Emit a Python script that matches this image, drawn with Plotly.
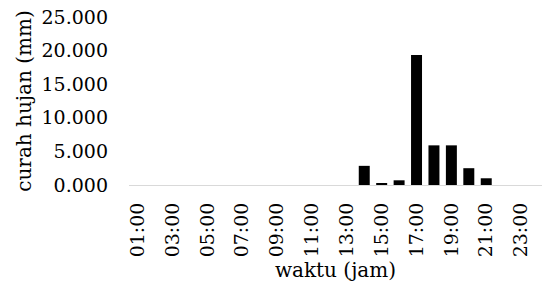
import plotly.graph_objects as go

hours = ["01:00", "02:00", "03:00", "04:00", "05:00", "06:00", "07:00", "08:00",
         "09:00", "10:00", "11:00", "12:00", "13:00", "14:00", "15:00", "16:00",
         "17:00", "18:00", "19:00", "20:00", "21:00", "22:00", "23:00", "24:00"]
rainfall = [0, 0, 0, 0, 0, 0, 0, 0,
            0, 0, 0, 0, 0, 2.85, 0.25, 0.7,
            19.35, 5.9, 5.9, 2.5, 1.0, 0, 0, 0]
tick_labels = hours[0::2]
y_ticks = [0, 5, 10, 15, 20, 25]

fig = go.Figure(go.Bar(x=hours, y=rainfall, marker=dict(color="black", line=dict(width=0))))

font_family = "DejaVu Serif, serif"
fig.update_layout(
    width=542, height=293,
    margin=dict(l=129, r=0, t=17, b=108),
    paper_bgcolor="white", plot_bgcolor="white",
    bargap=0.37,
    showlegend=False,
    font=dict(family=font_family, color="black", size=19),
    xaxis=dict(
        type="category",
        range=[-0.5, 23.2],
        tickmode="array", tickvals=tick_labels, ticktext=tick_labels,
        tickangle=-90,
        tickfont=dict(family=font_family, size=19),
        showline=True, linecolor="#d9d9d9", linewidth=1,
        showgrid=False, ticks="", ticklabelstandoff=9,
        title=dict(text="waktu (jam)", font=dict(family=font_family, size=20), standoff=6),
        automargin=False,
    ),
    yaxis=dict(
        range=[0, 25],
        tickmode="array", tickvals=y_ticks,
        tickformat=".3f",
        tickfont=dict(family=font_family, size=19),
        showgrid=False, zeroline=False, showline=False,
        ticks="", ticklabelstandoff=20,
        title=dict(text="curah hujan (mm)", font=dict(family=font_family, size=20), standoff=4),
        automargin=False,
    ),
)

fig.write_html("out.html", config={"displayModeBar": False},
               post_script="document.body.style.margin='0';")
